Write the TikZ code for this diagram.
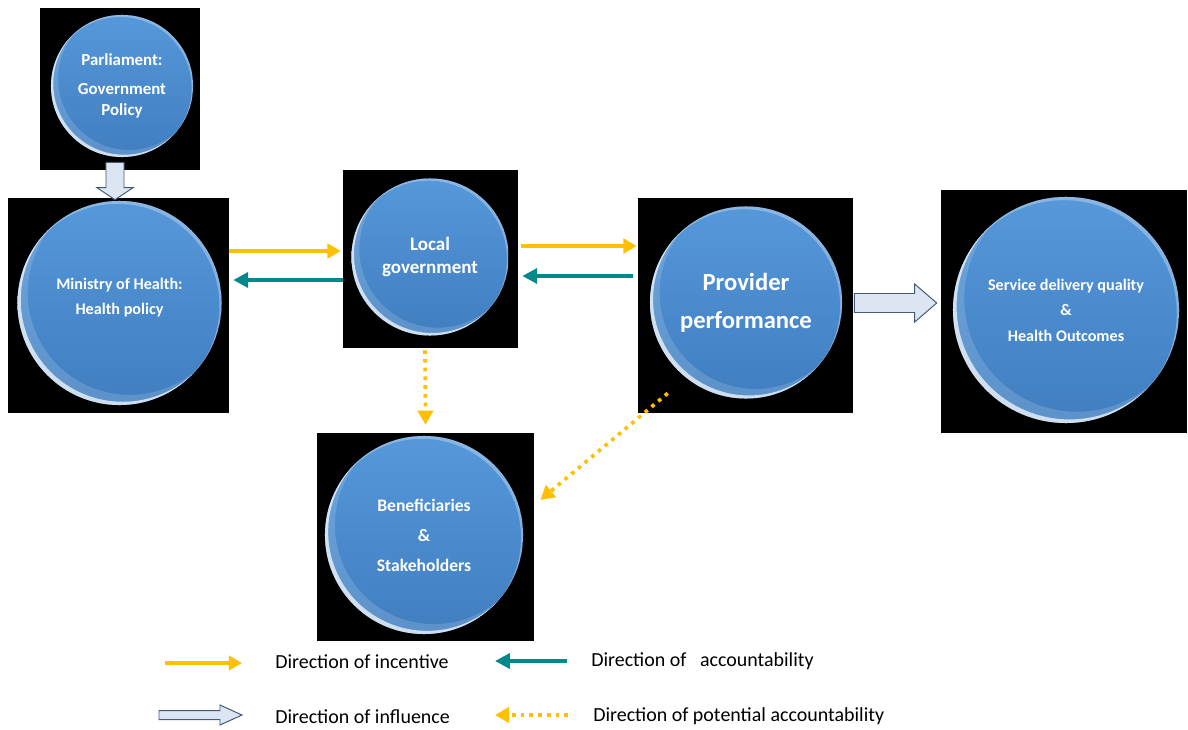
\documentclass[tikz,border=0pt]{standalone}
\usepackage{fontspec}
\setmainfont{Carlito}
\usepackage{tikz}
\usetikzlibrary{positioning,calc,arrows.meta}

\definecolor{incYellow}{RGB}{255,192,0}
\definecolor{accTeal}{RGB}{0,137,140}
\definecolor{inflFill}{RGB}{220,230,242}
\definecolor{inflLine}{RGB}{70,90,120}
\definecolor{bubTop}{RGB}{86,152,218}
\definecolor{bubBot}{RGB}{64,126,192}

\begin{document}
\begin{tikzpicture}[x=0.025cm, y=-0.025cm,
    blackbox/.style 2 args={rectangle, fill=black, inner sep=0pt, minimum width=#1, minimum height=#2},
    bubble/.style={circle, minimum size=#1, inner sep=0pt, align=center, text=white,
        top color=bubTop, bottom color=bubBot,
        path picture={
            % soft glow, then a sharp rim on the lower left
            \fill[white, opacity=0.15, even odd rule]
                (path picture bounding box.center) circle[radius=#1/2]
                ([shift={(0.05*#1,0.05*#1)}]path picture bounding box.center) circle[radius=#1/2];
            \fill[white, opacity=0.7, even odd rule]
                (path picture bounding box.center) circle[radius=#1/2]
                ([shift={(0.016*#1,0.016*#1)}]path picture bounding box.center) circle[radius=#1/2];
            % thin light rim on the upper right
            \fill[white, opacity=0.3, even odd rule]
                (path picture bounding box.center) circle[radius=#1/2]
                ([shift={(-0.01*#1,-0.014*#1)}]path picture bounding box.center) circle[radius=#1/2];
        }},
    incentive/.style={draw=incYellow, line width=3.4pt, -{Triangle[length=0.33cm, width=0.36cm]}},
    accountable/.style={draw=accTeal, line width=3.4pt, -{Triangle[length=0.37cm, width=0.37cm]}},
    potential/.style={draw=incYellow, line width=2.6pt, dash pattern=on 2.6pt off 3.6pt,
        -{Triangle[length=0.35cm, width=0.38cm, fill=incYellow]}},
    influence/.style n args={3}{draw=inflLine, fill=inflFill, line width=0.7pt,
        to path={let \p1=(\tikztostart), \p2=(\tikztotarget),
            \n1={atan2(\y2-\y1,\x2-\x1)}, \n2={veclen(\x2-\x1,\y2-\y1)} in
            (\p1) ++(\n1+90:#1) -- ++(\n1:\n2-#3) -- ++(\n1+90:#2-#1) -- (\p2)
            -- ($(\p2)+(\n1+180:#3)+(\n1-90:#2)$) -- ++(\n1+90:#2-#1)
            -- ($(\p1)+(\n1-90:#1)$) -- cycle}},
    legend/.style={anchor=west, inner sep=0pt, font=\fontsize{14.2}{17}\selectfont}]

    \useasboundingbox (0,0) rectangle (1188,729);

    % black panels behind the discs
    \node[blackbox={4cm}{4.05cm}] (paB) at (120,89) {};
    \node[blackbox={5.525cm}{5.375cm}] (mhB) at (118.5,305.5) {};
    \node[blackbox={4.375cm}{4.45cm}] (lgB) at (430.5,259) {};
    \node[blackbox={5.375cm}{5.375cm}] (ppB) at (745.5,305.5) {};
    \node[blackbox={6.15cm}{6.075cm}] (sdB) at (1064,311.5) {};
    \node[blackbox={5.425cm}{5.2cm}] (bsB) at (425.5,537) {};

    % discs
    \node[bubble=3.55cm, font=\bfseries\fontsize{12}{15}\selectfont] (pa) at (122,86)
        {Parliament:\\[5.6pt] Government\\ Policy};
    \node[bubble=5.1cm, font=\bfseries\fontsize{11.5}{17.8}\selectfont] (mh) at (119.5,303)
        {Ministry of Health:\\ Health policy\\[-7.8pt]};
    \node[bubble=3.925cm, font=\bfseries\fontsize{13.5}{16.4}\selectfont] (lg) at (430,257)
        {Local\\ government};
    \node[bubble=4.8cm, font=\bfseries\fontsize{17.5}{27}\selectfont] (pp) at (746,302.5)
        {Provider\\ performance};
    \node[bubble=5.65cm, font=\bfseries\fontsize{11.5}{18.1}\selectfont] (sd) at (1066,310)
        {Service delivery quality\\ \&\\ Health Outcomes};
    \node[bubble=4.95cm, font=\bfseries\fontsize{12.5}{21.3}\selectfont] (bs) at (424,535)
        {Beneficiaries\\ \&\\ Stakeholders};

    % influence
    \draw[influence={0.225cm}{0.45cm}{0.3cm}] ($(paB.south)+(-5,-8)$) to ($(mhB.north)+(-3.5,2)$);
    \draw[influence={0.2375cm}{0.475cm}{0.55cm}] ($(ppB.east)+(1,-2.5)$) to ($(sdB.west)+(-4,-8.5)$);

    % incentive and accountability
    \draw[incentive] ($(mhB.east)+(0,-54.5)$) -- ($(lgB.west)+(-2,-8)$);
    \draw[accountable] ($(lgB.west)+(0,21)$) -- ($(mhB.east)+(4,-25.5)$);
    \draw[incentive] ($(lgB.east)+(3,-13)$) -- ($(ppB.west)+(-1,-59.5)$);
    \draw[accountable] ($(ppB.west)+(-5,-29.5)$) -- ($(lgB.east)+(4,17)$);

    % potential accountability
    \draw[potential] ($(lgB.south)+(-5.5,2)$) -- ($(bsB.north)+(0,-8)$);
    \draw[potential] ($(ppB.south west)+(30,-20)$) -- ($(bsB.east)+(6,-37)$);

    % legend
    \node[legend] (tInc) at (275,662) {Direction of incentive};
    \node[legend] (tAcc) at (591,661) {Direction of~~~accountability};
    \node[legend] (tInf) at (275,717) {Direction of influence};
    \node[legend] (tPot) at (593,716) {Direction of potential accountability};
    \draw[incentive] ($(tInc.west)+(-110,1)$) -- ($(tInc.west)+(-33,1)$);
    \draw[accountable] ($(tAcc.west)+(-24,0)$) -- ($(tAcc.west)+(-96,0)$);
    \draw[influence={0.1125cm}{0.25cm}{0.55cm}] ($(tInf.west)+(-116,-2)$) to ($(tInf.west)+(-33,-2)$);
    \draw[potential] ($(tPot.west)+(-25,-1)$) -- ($(tPot.west)+(-98,-1)$);
\end{tikzpicture}
\end{document}
